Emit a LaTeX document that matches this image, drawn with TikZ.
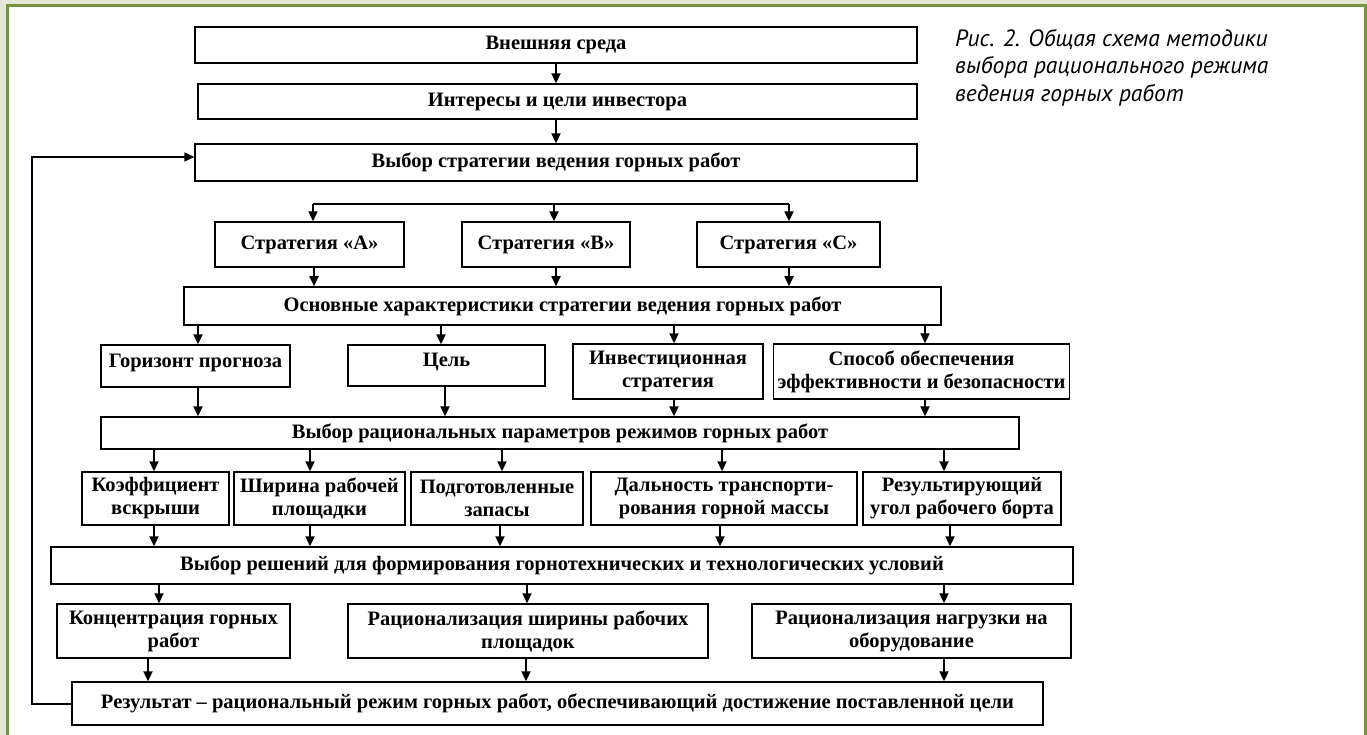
\documentclass[tikz,border=0pt]{standalone}
\usepackage{fontspec}
\setmainfont{Liberation Serif}
\newfontfamily\capfont{PT Sans}
\usetikzlibrary{arrows.meta}
\definecolor{bgbeige}{RGB}{230,230,216}
\definecolor{olive}{RGB}{118,146,60}
\tikzset{
  box/.style={draw=black, line width=1.3pt, fill=white, inner sep=0pt, align=center,
    font=\fontsize{20.5}{23}\selectfont\bfseries},
  arr/.style={line width=1.8pt, -{Triangle[length=10pt,width=9pt]}},
  ln/.style={line width=1.8pt},
  hightext/.style={text height=14pt, text depth=12pt},
}
\begin{document}
\begin{tikzpicture}[x=1pt,y=-1pt]
\useasboundingbox (0,0) rectangle (1367,735);
\fill[bgbeige] (0,0) rectangle (1367,735);
\draw[olive, line width=3pt, fill=white] (7.5,5.5) -- (1365.5,5.5) -- (1365.5,745) -- (7.5,745) -- cycle;

\node[box, minimum width=722pt, minimum height=36pt] (b1) at (556,45) {Внешняя среда};
\node[box, minimum width=719pt, minimum height=35pt] (b2) at (557.5,101.5) {Интересы и цели инвестора};
\node[box, minimum width=722pt, minimum height=37pt] (b3) at (556,162.5) {Выбор стратегии ведения горных работ};

\node[box, minimum width=189pt, minimum height=45pt] (sA) at (309.5,244.5) {Стратегия «А»};
\node[box, minimum width=168pt, minimum height=45pt] (sB) at (546,244.5) {Стратегия «В»};
\node[box, minimum width=183pt, minimum height=45pt] (sC) at (788.5,244.5) {Стратегия «С»};

\node[box, line width=1.6pt, minimum width=757pt, minimum height=38pt] (osn) at (562.5,306) {Основные характеристики стратегии ведения горных работ};

\node[box, hightext, minimum width=189pt, minimum height=42pt] (hor) at (195.5,366) {Горизонт прогноза};
\node[box, hightext, minimum width=197pt, minimum height=41pt] (cel) at (446.5,365.5) {Цель};
\node[box, minimum width=190pt, minimum height=55pt] (inv) at (668,371.5) {Инвестиционная\\стратегия};
\node[box, minimum width=227pt, minimum height=55pt, inner xsep=4pt, anchor=west] (spo) at (773,371.5) {Способ обеспечения\\эффективности и безопасности};

\node[box, minimum width=918pt, minimum height=32pt] (vrp) at (560,433) {Выбор рациональных параметров режимов горных работ};

\node[box, minimum width=147pt, minimum height=53pt] (k1) at (155.5,498.5) {Коэффициент\\вскрыши};
\node[box, minimum width=171pt, minimum height=53pt] (k2) at (319.5,498.5) {Ширина рабочей\\площадки};
\node[box, minimum width=172pt, minimum height=53pt] (k3) at (497,498.5) {Подготовленные\\запасы};
\node[box, minimum width=266pt, minimum height=53pt] (k4) at (724,498.5) {Дальность транспорти-\\рования горной массы};
\node[box, minimum width=198pt, minimum height=53pt] (k5) at (962,498.5) {Результирующий\\угол рабочего борта};

\node[box, minimum width=1022pt, minimum height=37pt] (vrs) at (562,565.5) {Выбор решений для формирования горнотехнических и технологических условий};

\node[box, minimum width=233pt, minimum height=54pt] (r1) at (173.5,631) {Концентрация горных\\работ};
\node[box, minimum width=360pt, minimum height=54pt] (r2) at (528,631) {Рационализация ширины рабочих\\площадок};
\node[box, minimum width=319pt, minimum height=54pt] (r3) at (911.5,631) {Рационализация нагрузки на\\оборудование};

\node[box, minimum width=971pt, minimum height=43pt] (res) at (557.5,703.5) {Результат – рациональный режим горных работ, обеспечивающий достижение поставленной цели};

\node[anchor=north west, align=left, inner sep=0pt, font=\capfont\itshape\fontsize{23.5}{27.5}\selectfont] (cap) at (955,29)
  {Рис. 2. Общая схема методики\\выбора рационального режима\\ведения горных работ};

% arrows
\draw[arr] (b1.south -| 556,0) -- (b2.north -| 556,0);
\draw[arr] (b2.south -| 556,0) -- (b3.north -| 556,0);

\coordinate (brL) at (313,204);
\coordinate (brR) at (789,204);
\draw[ln] (brL) -- (brR);
\draw[arr] (brL) -- (sA.north -| brL);
\draw[arr] (554,204) -- (sB.north -| 554,0);
\draw[arr] (brR) -- (sC.north -| brR);

\draw[arr] (sA.south -| 314,0) -- (osn.north -| 314,0);
\draw[arr] (sB.south -| 556,0) -- (osn.north -| 556,0);
\draw[arr] (sC.south -| 789,0) -- (osn.north -| 789,0);

\draw[arr] (osn.south -| 198,0) -- (hor.north -| 198,0);
\draw[arr] (osn.south -| 441,0) -- (cel.north -| 441,0);
\draw[arr] (osn.south -| 674,0) -- (inv.north -| 674,0);
\draw[arr] (osn.south -| 925,0) -- (spo.north -| 925,0);

\draw[arr] (hor.south -| 198,0) -- (vrp.north -| 198,0);
\draw[arr] (cel.south -| 445,0) -- (vrp.north -| 445,0);
\draw[arr] (inv.south -| 674,0) -- (vrp.north -| 674,0);
\draw[arr] (spo.south -| 925,0) -- (vrp.north -| 925,0);

\draw[arr] (vrp.south -| 154,0) -- (k1.north -| 154,0);
\draw[arr] (vrp.south -| 310,0) -- (k2.north -| 310,0);
\draw[arr] (vrp.south -| 502,0) -- (k3.north -| 502,0);
\draw[arr] (vrp.south -| 722,0) -- (k4.north -| 722,0);
\draw[arr] (vrp.south -| 944,0) -- (k5.north -| 944,0);

\draw[arr] (k1.south -| 154,0) -- (vrs.north -| 154,0);
\draw[arr] (k2.south -| 310,0) -- (vrs.north -| 310,0);
\draw[arr] (k3.south -| 500,0) -- (vrs.north -| 500,0);
\draw[arr] (k4.south -| 720,0) -- (vrs.north -| 720,0);
\draw[arr] (k5.south -| 950,0) -- (vrs.north -| 950,0);

\draw[arr] (vrs.south -| 159,0) -- (r1.north -| 159,0);
\draw[arr] (vrs.south -| 527,0) -- (r2.north -| 527,0);
\draw[arr] (vrs.south -| 944,0) -- (r3.north -| 944,0);

\draw[arr] (r1.south -| 148,0) -- (res.north -| 148,0);
\draw[arr] (r2.south -| 526,0) -- (res.north -| 526,0);
\draw[arr] (r3.south -| 944,0) -- (res.north -| 944,0);

\coordinate (fbB) at (32,704);
\coordinate (fbT) at (32,157);
\draw[line width=1.3pt, -{Triangle[length=10pt,width=9pt]}] (res.west |- fbB) -- (fbB) -- (fbT) -- (b3.west |- fbT);
\end{tikzpicture}
\end{document}
